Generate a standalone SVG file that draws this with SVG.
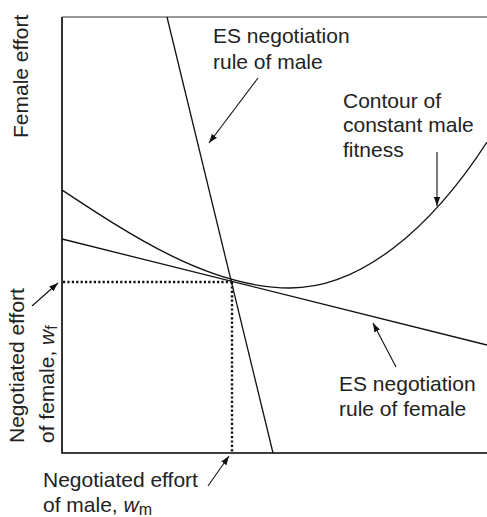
<svg xmlns="http://www.w3.org/2000/svg" width="487" height="517" viewBox="0 0 487 517">
<style>
text{font-family:"Liberation Sans",Arial,sans-serif;font-size:21px;fill:#222}
.ln{fill:none;stroke:#111;stroke-width:1.3}
.ax{fill:none;stroke:#000;stroke-width:1.6}
.dot{fill:none;stroke:#111;stroke-width:2.4;stroke-dasharray:2.2 2.2}
.ar{fill:none;stroke:#111;stroke-width:1.1;marker-end:url(#ah)}
</style>
<defs>
<marker id="ah" viewBox="0 0 10 10" refX="10" refY="5" markerWidth="9" markerHeight="9" markerUnits="userSpaceOnUse" orient="auto">
<path d="M0,1.5 L10,5 L0,8.5 Z" fill="#111"/>
</marker>
</defs>
<g id="axes">
<line x1="62" y1="17" x2="487" y2="17" stroke="#777" stroke-width="1.6"/>
<polyline class="ax" points="62,17 62,453 487,453"/>
</g>
<g id="curves">
<line id="male-rule" class="ln" x1="167" y1="17" x2="273" y2="453"/>
<line id="female-rule" class="ln" x1="62" y1="239" x2="487" y2="345"/>
<path id="contour" class="ln" d="M62,190 C130,235 210,288 290,288 C360,288 430,230 487,142"/>
<line class="dot" x1="63" y1="282" x2="232" y2="282"/>
<line class="dot" x1="232" y1="282" x2="232" y2="453"/>
</g>
<g id="connectors">
<line class="ar" x1="258" y1="78" x2="209" y2="143"/>
<line class="ar" x1="437" y1="152" x2="437" y2="206"/>
<line class="ar" x1="396" y1="367" x2="373" y2="323"/>
<line class="ar" x1="32" y1="306" x2="58" y2="283"/>
<line class="ar" x1="208" y1="486" x2="229" y2="456"/>
</g>
<g id="label-female-effort">
<text transform="translate(28,138) rotate(-90)">Female effort</text>
</g>
<g id="label-male-rule">
<text x="213" y="43">ES negotiation</text>
<text x="213" y="69">rule of male</text>
</g>
<g id="label-contour">
<text x="343" y="108">Contour of</text>
<text x="343" y="132">constant male</text>
<text x="343" y="157">fitness</text>
</g>
<g id="label-female-rule">
<text x="339" y="391">ES negotiation</text>
<text x="339" y="416">rule of female</text>
</g>
<g id="label-wf">
<text transform="translate(24,443) rotate(-90)">Negotiated effort</text>
<text transform="translate(54,443) rotate(-90)">of female, <tspan font-style="italic">w</tspan><tspan font-size="16" dy="3">f</tspan></text>
</g>
<g id="label-wm">
<text x="43" y="487">Negotiated effort</text>
<text x="43" y="512">of male, <tspan font-style="italic">w</tspan><tspan font-size="16" dy="3">m</tspan></text>
</g>
</svg>
